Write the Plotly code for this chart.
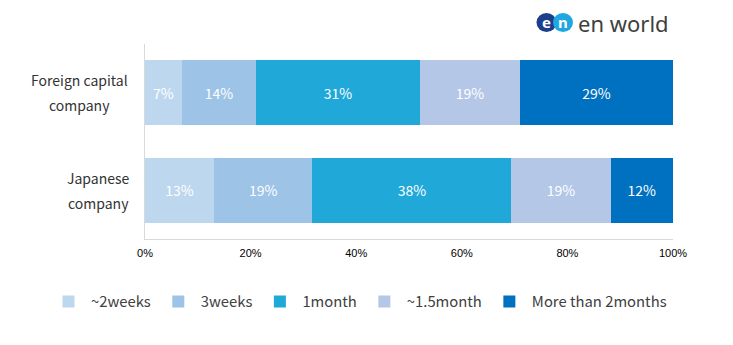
import plotly.graph_objects as go

categories = ["Foreign capital<br>company", "Japanese<br>company"]
series_names = ["~2weeks", "3weeks", "1month", "~1.5month", "More than 2months"]
foreign = [7.0, 14.0, 31.1, 18.9, 29.0]
japanese = [13.1, 18.6, 37.7, 18.8, 11.8]
labels_foreign = ["7%", "14%", "31%", "19%", "29%"]
labels_japanese = ["13%", "19%", "38%", "19%", "12%"]
colors = ["#BDD7EE", "#9DC3E6", "#1FA8D8", "#B4C7E7", "#0070C0"]
tick_vals = [0, 20, 40, 60, 80, 100]
tick_text = ["0%", "20%", "40%", "60%", "80%", "100%"]

W, H = 733, 345
L, R, T, B = 145, 60, 44, 106

fig = go.Figure()
for i, name in enumerate(series_names):
    fig.add_trace(go.Bar(
        y=categories, x=[foreign[i], japanese[i]], name=name, orientation="h",
        marker=dict(color=colors[i], line=dict(width=0)),
        text=[labels_foreign[i], labels_japanese[i]], textposition="inside",
        insidetextanchor="middle", textangle=0,
        textfont=dict(color="white", size=14, family="Noto Sans CJK JP"),
        hoverinfo="skip",
    ))

def px_x(px):
    return (px - L) / (W - L - R)

def px_y(py):
    return (H - B - py) / (H - T - B)

shapes = [
    dict(type="circle", xref="paper", yref="paper", x0=px_x(536.5), x1=px_x(556.5),
         y0=px_y(32), y1=px_y(13), fillcolor="#1B3F8B", line=dict(width=0), layer="above"),
    dict(type="circle", xref="paper", yref="paper", x0=px_x(553), x1=px_x(573),
         y0=px_y(32), y1=px_y(13), fillcolor="#1FA8E0", line=dict(width=0), layer="above"),
]
annotations = [
    dict(text="<b>e</b>", xref="paper", yref="paper", x=px_x(546.5), y=px_y(22.5),
         showarrow=False, font=dict(color="white", size=15, family="Noto Sans"),
         xanchor="center", yanchor="middle"),
    dict(text="<b>n</b>", xref="paper", yref="paper", x=px_x(563), y=px_y(22.5),
         showarrow=False, font=dict(color="white", size=15, family="Noto Sans"),
         xanchor="center", yanchor="middle"),
    dict(text="en world", xref="paper", yref="paper", x=px_x(576), y=px_y(23),
         showarrow=False, font=dict(color="#404040", size=22, family="Noto Sans"),
         xanchor="left", yanchor="middle"),
]

# category labels: each line placed separately for the wider line spacing of the reference
label_centers = [79, 98]
for cat, cx in zip(categories, label_centers):
    lines = cat.split("<br>")
    for j, line in enumerate(lines):
        annotations.append(dict(
            text=line, xref="paper", yref="y", x=px_x(cx), y=cat,
            yshift=12.5 - 25 * j, showarrow=False, xanchor="center", yanchor="middle",
            font=dict(size=14, color="#333333", family="Noto Sans CJK JP"),
        ))

fig.update_layout(
    width=W, height=H, barmode="stack", bargap=0.333,
    margin=dict(l=L, r=R, t=T, b=B),
    paper_bgcolor="white", plot_bgcolor="white",
    font=dict(family="Noto Sans CJK JP", color="#333333"),
    xaxis=dict(range=[0, 100], tickvals=tick_vals, ticktext=tick_text, showgrid=False,
               showline=True, linecolor="#D9D9D9", linewidth=1, ticks="",
               tickfont=dict(size=11, color="#000000", family="Liberation Sans"),
               ticklabelstandoff=4, zeroline=False, fixedrange=True),
    yaxis=dict(autorange="reversed", showgrid=False, showline=True, linecolor="#D9D9D9",
               linewidth=1, ticks="", showticklabels=False, fixedrange=True),
    legend=dict(orientation="h", xref="paper", yref="paper", x=px_x(46), xanchor="left",
                y=px_y(302), yanchor="middle", traceorder="normal",
                font=dict(size=14.8, color="#404040", family="Noto Sans CJK JP"),
                itemwidth=35),
    shapes=shapes, annotations=annotations, showlegend=True,
)
fig.write_html("out.html")
